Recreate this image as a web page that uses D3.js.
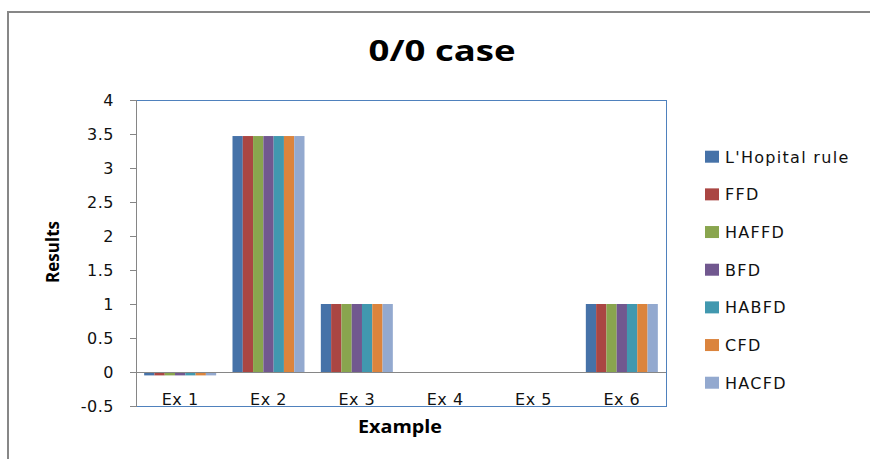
<!DOCTYPE html>
<html><head><meta charset="utf-8">
<script src="https://cdn.jsdelivr.net/npm/d3@7"></script>
<style>
html,body{margin:0;padding:0;background:#fff;}
svg{display:block;}
</style></head>
<body><svg id="c" width="870" height="459"></svg>
<script>
const categories = ["Ex 1","Ex 2","Ex 3","Ex 4","Ex 5","Ex 6"];
const seriesNames = ["L'Hopital rule","FFD","HAFFD","BFD","HABFD","CFD","HACFD"];
const seriesColors = ["#4672A8","#AA4643","#89A54E","#71588F","#4198AF","#DB843D","#93A9CF"];
const lhopital = [-0.05, 3.47, 1, 0, 0, 1];
const ffd      = [-0.05, 3.47, 1, 0, 0, 1];
const haffd    = [-0.05, 3.47, 1, 0, 0, 1];
const bfd      = [-0.05, 3.47, 1, 0, 0, 1];
const habfd    = [-0.05, 3.47, 1, 0, 0, 1];
const cfd      = [-0.05, 3.47, 1, 0, 0, 1];
const hacfd    = [-0.05, 3.47, 1, 0, 0, 1];
const seriesValues = [lhopital, ffd, haffd, bfd, habfd, cfd, hacfd];
const yTicks = [-0.5, 0, 0.5, 1, 1.5, 2, 2.5, 3, 3.5, 4];

const svg = d3.select("#c");
const L = 136, R = 666, T = 100, B = 406;

// outer border
svg.append("path").attr("d","M8,470 L8,12 L880,12")
  .attr("fill","none").attr("stroke","#878787").attr("stroke-width",2);

const y = d3.scaleLinear().domain([-0.5,4]).range([B,T]);
const x0 = d3.scaleBand().domain(categories).range([L,R]).padding(0);
const x1 = d3.scaleBand().domain(seriesNames).range([0,x0.bandwidth()]).paddingInner(0).paddingOuter(0.794);

// plot border (blue top/right/bottom)
svg.append("path").attr("d",`M${L},${T} L${R},${T} L${R},${B} L${L},${B}`)
  .attr("fill","none").attr("stroke","#4F81BD").attr("stroke-width",1).attr("shape-rendering","crispEdges");

// bars
const data = [];
categories.forEach((c,i)=>seriesNames.forEach((s,j)=>data.push({c,s,v:seriesValues[j][i],col:seriesColors[j]})));
svg.append("g").selectAll("rect").data(data).join("rect")
  .attr("x",d=>x0(d.c)+x1(d.s))
  .attr("width",x1.bandwidth())
  .attr("y",d=>y(Math.max(0,d.v)))
  .attr("height",d=>Math.abs(y(d.v)-y(0)))
  .attr("fill",d=>d.col);

// y axis
const yAxis = d3.axisLeft(y).tickValues(yTicks).tickSize(6).tickFormat(d=>String(d));
const ga = svg.append("g").attr("transform",`translate(${L},0)`).call(yAxis);
ga.select(".domain").attr("stroke","#868686");
ga.selectAll(".tick line").attr("stroke","#868686");
ga.selectAll(".tick text").attr("font-family","DejaVu Sans").attr("font-size",16)
  .attr("fill","#111").attr("x",-22).attr("dy","0.36em").style("letter-spacing","0.5px");
ga.attr("shape-rendering","crispEdges");

// zero line
svg.append("line").attr("x1",L-6).attr("x2",R).attr("y1",y(0)).attr("y2",y(0))
  .attr("stroke","#868686").attr("shape-rendering","crispEdges");

// category labels
svg.append("g").selectAll("text").data(categories).join("text")
  .attr("x",d=>x0(d)+x0.bandwidth()/2).attr("y",405)
  .attr("text-anchor","middle").attr("font-family","DejaVu Sans").attr("font-size",16)
  .attr("fill","#111").style("letter-spacing","0.5px").text(d=>d);

// title
svg.append("text").attr("x",442).attr("y",61).attr("text-anchor","middle")
  .attr("font-family","Open Sans").attr("font-weight","bold").attr("font-size",29)
  .attr("textLength",147).attr("lengthAdjust","spacingAndGlyphs").text("0/0 case");

// axis titles
svg.append("text").attr("x",400).attr("y",433).attr("text-anchor","middle")
  .attr("font-family","Open Sans").attr("font-weight","bold").attr("font-size",17)
  .attr("textLength",84).attr("lengthAdjust","spacingAndGlyphs").text("Example");
svg.append("text").attr("transform","translate(59,252) rotate(-90)").attr("text-anchor","middle")
  .attr("font-family","Open Sans").attr("font-weight","bold").attr("font-size",17)
  .attr("textLength",62).attr("lengthAdjust","spacingAndGlyphs").text("Results");

// legend
const leg = svg.append("g").selectAll("g").data(seriesNames).join("g")
  .attr("transform",(d,i)=>`translate(705,${156.7+i*37.67})`);
leg.append("rect").attr("x",0).attr("y",-6).attr("width",14).attr("height",12)
  .attr("fill",(d,i)=>seriesColors[i]);
leg.append("text").attr("x",20).attr("y",6).attr("font-family","DejaVu Sans").attr("font-size",16)
  .attr("fill","#111").style("letter-spacing","1.3px").text(d=>d);
</script></body></html>
